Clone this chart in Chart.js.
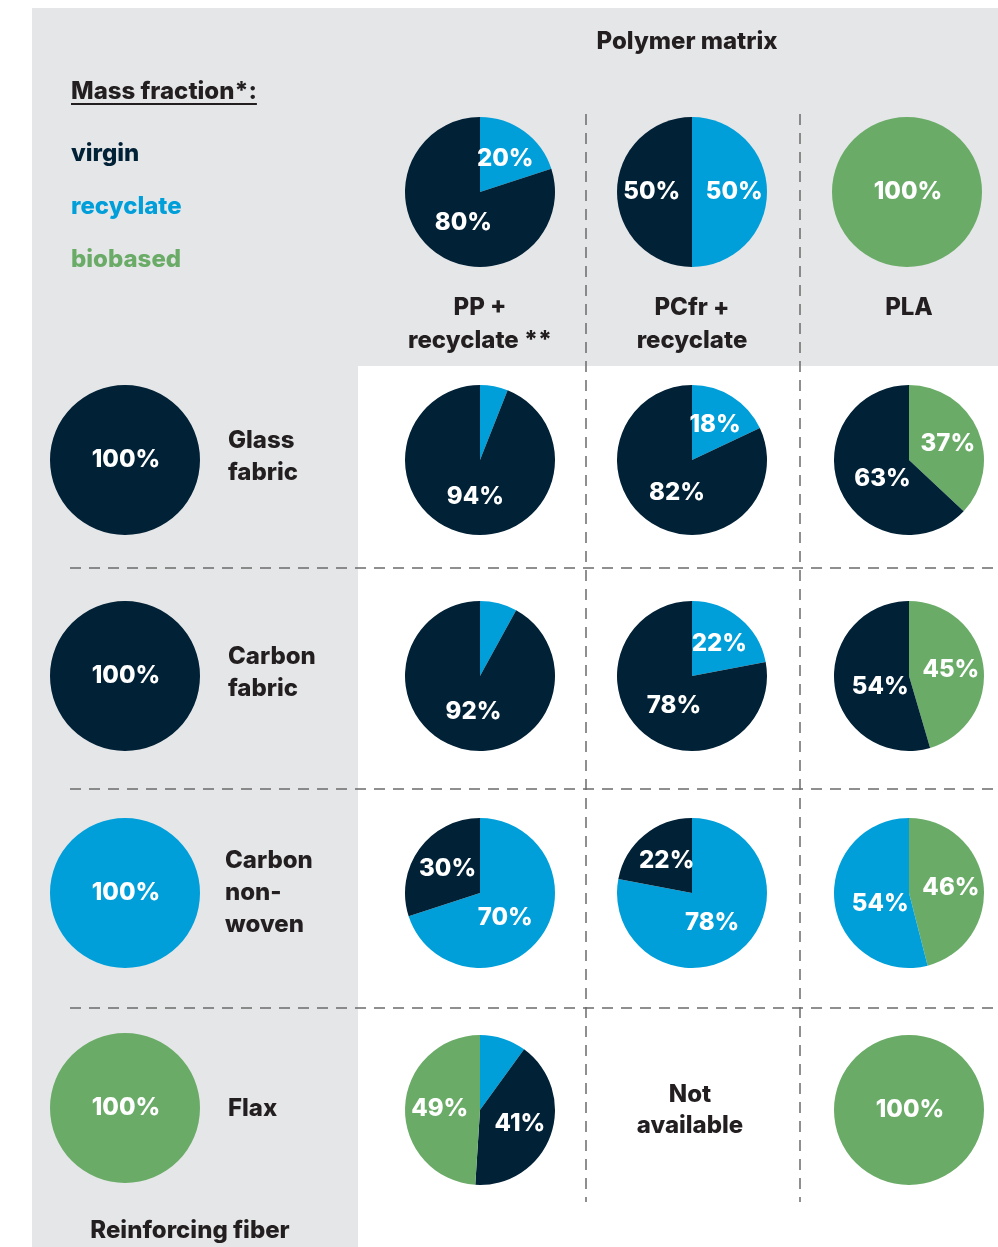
<!DOCTYPE html>
<html>
<head>
<meta charset="utf-8">
<script src="https://cdn.jsdelivr.net/npm/chart.js@4.4.1/dist/chart.umd.min.js"></script>
<style>
  html, body { margin: 0; padding: 0; background: #ffffff; }
  #page { position: relative; width: 998px; height: 1247px; overflow: hidden; font-family: Inter, "Liberation Sans", sans-serif; font-weight: 800; color: #231f20; }
  .gray { position: absolute; background: #e5e6e8; }
  .txt { position: absolute; font-size: 24px; line-height: 32px; white-space: pre; }
  .pie { position: absolute; }
</style>
</head>
<body>
<div id="page">
  <div class="gray" style="left:32px; top:8px; width:966px; height:358px;"></div>
  <div class="gray" style="left:32px; top:366px; width:326px; height:881px;"></div>
  <canvas id="grid" width="998" height="1247" style="position:absolute; left:0; top:0;"></canvas>
</div>
<script>
// slice colours
const typeColors = { virgin: "#012136", recyclate: "#009fda", biobased: "#6aac67" };

// legend
const legendTypes = ["virgin", "recyclate", "biobased"];

// column headers (polymer matrix) and their pies, clockwise from 12 o'clock
const matrixNames = ["PP +\nrecyclate **", "PCfr +\nrecyclate", "PLA"];
const matrixTypes = [["recyclate", "virgin"], ["recyclate", "virgin"], ["biobased"]];
const matrixValues = [[20, 80], [50, 50], [100]];

// row headers (reinforcing fiber) and their pies
const fiberNames = ["Glass\nfabric", "Carbon\nfabric", "Carbon\nnon-\nwoven", "Flax"];
const fiberTypes = [["virgin"], ["virgin"], ["recyclate"], ["biobased"]];
const fiberValues = [[100], [100], [100], [100]];

// composite pies: rows = fibers, columns = matrices
const compositeTypes = [
  [["recyclate", "virgin"], ["recyclate", "virgin"], ["biobased", "virgin"]],
  [["recyclate", "virgin"], ["recyclate", "virgin"], ["biobased", "virgin"]],
  [["recyclate", "virgin"], ["recyclate", "virgin"], ["biobased", "recyclate"]],
  [["recyclate", "virgin", "biobased"], null, ["biobased"]],
];
const compositeValues = [
  [[6, 94], [18, 82], [37, 63]],
  [[8, 92], [22, 78], [45, 54]],
  [[70, 30], [78, 22], [46, 54]],
  [[10, 41, 49], null, [100]],
];

// layout
const page = document.getElementById("page");
const colX = [480, 692, 909];
const headerPieY = 192;
const rowY = [460, 676, 893, 1108];
const fiberPieX = 125;
const PIE_R = 75;

function addText(text, x, y, align, color, extra) {
  const d = document.createElement("div");
  d.className = "txt";
  d.textContent = text;
  d.style.top = y + "px";
  d.style.textAlign = align;
  if (align === "center") {
    d.style.left = (x - 150) + "px";
    d.style.width = "300px";
  } else {
    d.style.left = x + "px";
  }
  if (color) d.style.color = color;
  if (extra) Object.assign(d.style, extra);
  page.appendChild(d);
  return d;
}

// percentage labels inside the slices
const sliceLabels = {
  id: "sliceLabels",
  afterDatasetsDraw(chart) {
    const ctx = chart.ctx;
    const ds = chart.data.datasets[0];
    const meta = chart.getDatasetMeta(0);
    ctx.save();
    ctx.fillStyle = "#ffffff";
    ctx.font = "800 24px Inter, 'Liberation Sans', sans-serif";
    ctx.textAlign = "center";
    ctx.textBaseline = "middle";
    meta.data.forEach((arc, i) => {
      const v = ds.data[i];
      if (v < 12) return;
      const p = arc.getProps(["x", "y", "startAngle", "endAngle", "outerRadius"], true);
      let x = p.x, y = p.y;
      if (v < 100) {
        const mid = (p.startAngle + p.endAngle) / 2;
        const big = v > 50;
        const f = big ? 0.4 : 0.55;
        x += Math.cos(mid) * p.outerRadius * f;
        y += Math.sin(mid) * p.outerRadius * f + (big ? 7 : 0);
      }
      ctx.fillText(v + "%", x + 1, y);
    });
    ctx.restore();
  },
};

function makePie(cx, cy, types, values) {
  const c = document.createElement("canvas");
  const size = PIE_R * 2 + 10;
  c.width = size;
  c.height = size;
  c.className = "pie";
  c.style.left = (cx - size / 2) + "px";
  c.style.top = (cy - size / 2) + "px";
  page.appendChild(c);
  return new Chart(c, {
    type: "pie",
    data: {
      labels: types,
      datasets: [{
        data: values,
        backgroundColor: types.map((t) => typeColors[t]),
        borderWidth: 0,
      }],
    },
    options: {
      responsive: false,
      animation: false,
      layout: { padding: 5 },
      plugins: { legend: { display: false }, tooltip: { enabled: false } },
    },
    plugins: [sliceLabels],
  });
}

// dashed grid lines
const g = document.getElementById("grid").getContext("2d");
g.strokeStyle = "#6b6b6b";
g.lineWidth = 1.5;
g.setLineDash([11, 8]);
[568, 789, 1008].forEach((y) => {
  g.beginPath();
  g.moveTo(70, y);
  g.lineTo(998, y);
  g.stroke();
});
[586, 800].forEach((x) => {
  g.beginPath();
  g.moveTo(x, 114);
  g.lineTo(x, 1202);
  g.stroke();
});

// headers and legend
addText("Polymer matrix", 687, 25, "center");
addText("Mass fraction*:", 71, 75, "left", null, { textDecoration: "underline", textDecorationThickness: "2px", textUnderlineOffset: "4px" });
legendTypes.forEach((t, i) => addText(t, 71, 137 + i * 53, "left", typeColors[t]));

matrixNames.forEach((name, j) => {
  makePie(j === 2 ? 907 : colX[j], headerPieY, matrixTypes[j], matrixValues[j]);
  addText(name, colX[j], 290, "center", null, { lineHeight: "33px" });
});

const fiberLabelTop = [424, 640, 844, 1092];
fiberNames.forEach((name, i) => {
  makePie(fiberPieX, rowY[i], fiberTypes[i], fiberValues[i]);
  addText(name, i === 2 ? 225 : 228, fiberLabelTop[i], "left");
  colX.forEach((x, j) => {
    if (compositeTypes[i][j]) {
      makePie(x, rowY[i] + (i === 3 ? 2 : 0), compositeTypes[i][j], compositeValues[i][j]);
    }
  });
});

addText("Not\navailable", 690, 1078, "center", null, { lineHeight: "31px" });
addText("Reinforcing fiber", 190, 1214, "center");
</script>
</body>
</html>
